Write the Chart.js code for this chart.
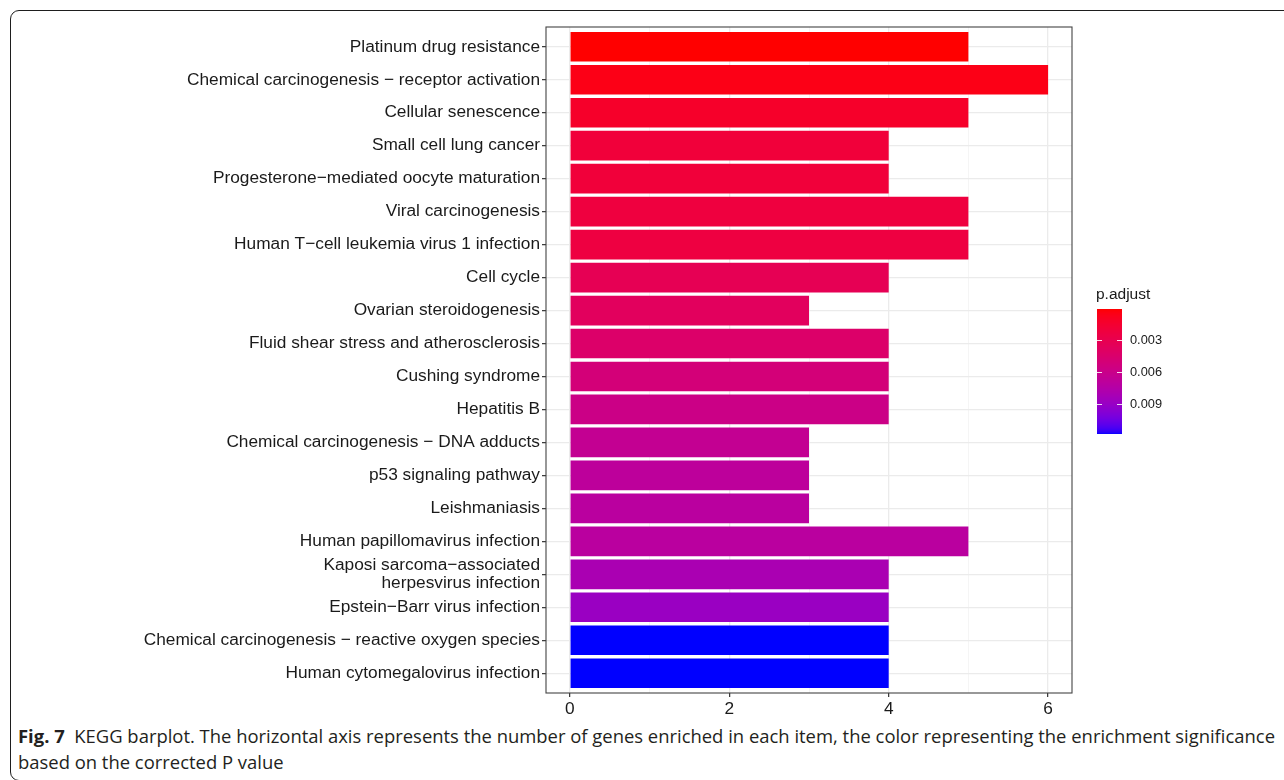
<!DOCTYPE html>
<html>
<head>
<meta charset="utf-8">
<title>KEGG barplot</title>
<script src="https://cdn.jsdelivr.net/npm/chart.js@4.4.1/dist/chart.umd.min.js"></script>
<style>
  html, body { margin: 0; padding: 0; background: #ffffff; }
  body { width: 1284px; height: 780px; position: relative; overflow: hidden; }
  #frame {
    position: absolute; left: 10px; top: 10px; width: 1400px; height: 771px;
    border: 1.5px solid #1e1e1e; border-radius: 9px; box-sizing: border-box;
  }
  #plotBox { position: absolute; left: 0; top: 0; width: 1284px; height: 720px; }
  .cap {
    position: absolute; left: 18px; white-space: nowrap;
    font-family: "Open Sans", "Noto Sans", sans-serif; font-size: 17.5px; line-height: 26px;
    color: #231f20; transform-origin: 0 0;
  }
  .cap b { font-weight: 700; }
</style>
</head>
<body>
<div id="frame"></div>
<div id="plotBox"><canvas id="chart" width="1284" height="720"></canvas></div>
<div class="cap" id="cap1"><b>Fig. 7</b>&nbsp; KEGG barplot. The horizontal axis represents the number of genes enriched in each item, the color representing the enrichment significance</div>
<div class="cap" id="cap2">based on the corrected P value</div>

<script>
// KEGG pathways, top to bottom
const categories = [
  "Platinum drug resistance",
  "Chemical carcinogenesis \u2212 receptor activation",
  "Cellular senescence",
  "Small cell lung cancer",
  "Progesterone\u2212mediated oocyte maturation",
  "Viral carcinogenesis",
  "Human T\u2212cell leukemia virus 1 infection",
  "Cell cycle",
  "Ovarian steroidogenesis",
  "Fluid shear stress and atherosclerosis",
  "Cushing syndrome",
  "Hepatitis B",
  "Chemical carcinogenesis \u2212 DNA adducts",
  "p53 signaling pathway",
  "Leishmaniasis",
  "Human papillomavirus infection",
  "Kaposi sarcoma\u2212associated\nherpesvirus infection",
  "Epstein\u2212Barr virus infection",
  "Chemical carcinogenesis \u2212 reactive oxygen species",
  "Human cytomegalovirus infection"
];

// number of enriched genes per pathway
const geneCount = [5, 6, 5, 4, 4, 5, 5, 4, 3, 4, 4, 4, 3, 3, 3, 5, 4, 4, 4, 4];

// adjusted p-values per pathway
const pAdjust = [
  0.00005, 0.00052, 0.00123, 0.00193, 0.00193, 0.00217, 0.00228, 0.00322, 0.00369, 0.00428,
  0.00510, 0.00581, 0.00640, 0.00687, 0.00710, 0.00710, 0.00804, 0.00886, 0.01180, 0.01180
];

// axis ticks
const countTicks = [0, 1, 2, 3, 4, 5, 6];
const legendBreaks = [0.003, 0.006, 0.009];
const legendBreakLabels = ["0.003", "0.006", "0.009"];

// ---- colour scale: red (low p) -> blue (high p), interpolated in CIE Lab ----
const WHITE = [0.95047, 1.0, 1.08883];
function toLin(c) { c /= 255; return c <= 0.04045 ? c / 12.92 : Math.pow((c + 0.055) / 1.055, 2.4); }
function fromLin(c) { c = c <= 0.0031308 ? 12.92 * c : 1.055 * Math.pow(c, 1 / 2.4) - 0.055; return Math.round(Math.min(1, Math.max(0, c)) * 255); }
function rgbToLab(rgb) {
  const r = toLin(rgb[0]), g = toLin(rgb[1]), b = toLin(rgb[2]);
  const X = (0.4124 * r + 0.3576 * g + 0.1805 * b) / WHITE[0];
  const Y = (0.2126 * r + 0.7152 * g + 0.0722 * b) / WHITE[1];
  const Z = (0.0193 * r + 0.1192 * g + 0.9505 * b) / WHITE[2];
  const f = t => t > 0.008856 ? Math.cbrt(t) : 7.787 * t + 16 / 116;
  const fx = f(X), fy = f(Y), fz = f(Z);
  return [116 * fy - 16, 500 * (fx - fy), 200 * (fy - fz)];
}
function labToRgb(lab) {
  const fy = (lab[0] + 16) / 116, fx = fy + lab[1] / 500, fz = fy - lab[2] / 200;
  const inv = t => t * t * t > 0.008856 ? t * t * t : (t - 16 / 116) / 7.787;
  const X = inv(fx) * WHITE[0], Y = inv(fy) * WHITE[1], Z = inv(fz) * WHITE[2];
  const r = 3.2406 * X - 1.5372 * Y - 0.4986 * Z;
  const g = -0.9689 * X + 1.8758 * Y + 0.0415 * Z;
  const b = 0.0557 * X - 0.2040 * Y + 1.0570 * Z;
  return [fromLin(r), fromLin(g), fromLin(b)];
}
const LAB_LOW = rgbToLab([255, 0, 0]);
const LAB_HIGH = rgbToLab([0, 0, 255]);
const pMin = Math.min(...pAdjust);
const pMax = Math.max(...pAdjust);
function colourFor(p) {
  const t = Math.min(1, Math.max(0, (p - pMin) / (pMax - pMin)));
  const lab = LAB_LOW.map((v, i) => v + (LAB_HIGH[i] - v) * t);
  const c = labToRgb(lab);
  return `rgb(${c[0]},${c[1]},${c[2]})`;
}

const TEXT = '#1a1a1a';
const FONT = '"Liberation Sans", Arial, Helvetica, sans-serif';

// panel border drawn over the plot
const panelBorder = {
  id: 'panelBorder',
  afterDraw(chart) {
    const { ctx, chartArea: a } = chart;
    ctx.save();
    ctx.strokeStyle = '#444444';
    ctx.lineWidth = 1.1;
    ctx.strokeRect(a.left, a.top, a.right - a.left, a.bottom - a.top);
    ctx.restore();
  }
};

// colour bar legend for p.adjust
const colourBar = {
  id: 'colourBar',
  afterDraw(chart) {
    const ctx = chart.ctx;
    const x = 1097, y = 309, w = 25, h = 125;
    ctx.save();
    for (let i = 0; i < h; i++) {
      const p = pMin + (i + 0.5) / h * (pMax - pMin);
      ctx.fillStyle = colourFor(p);
      ctx.fillRect(x, y + i, w, 1);
    }
    ctx.strokeStyle = 'rgba(255,255,255,0.85)';
    ctx.lineWidth = 1;
    ctx.fillStyle = TEXT;
    ctx.font = `12.8px ${FONT}`;
    ctx.textBaseline = 'middle';
    ctx.textAlign = 'left';
    legendBreaks.forEach((b, i) => {
      const yy = Math.round(y + (b - pMin) / (pMax - pMin) * h) + 0.5;
      ctx.beginPath();
      ctx.moveTo(x, yy); ctx.lineTo(x + 5, yy);
      ctx.moveTo(x + w - 5, yy); ctx.lineTo(x + w, yy);
      ctx.stroke();
      ctx.fillText(legendBreakLabels[i], 1130, yy);
    });
    ctx.font = `15.5px ${FONT}`;
    ctx.fillStyle = TEXT;
    ctx.fillText('p.adjust', 1096, 295);
    ctx.restore();
  }
};

new Chart(document.getElementById('chart'), {
  type: 'bar',
  data: {
    datasets: [{
      data: categories.map((c, i) => ({ x: geneCount[i], y: i })),
      backgroundColor: pAdjust.map(colourFor),
      borderWidth: 0,
      barPercentage: 0.9,
      categoryPercentage: 1.0
    }]
  },
  options: {
    indexAxis: 'y',
    responsive: false,
    devicePixelRatio: 1,
    animation: false,
    layout: { padding: { left: 0, right: 212, top: 27, bottom: 0 } },
    plugins: { legend: { display: false }, tooltip: { enabled: false } },
    scales: {
      x: {
        type: 'linear',
        position: 'bottom',
        min: -0.3,
        max: 6.3,
        bounds: 'data',
        offset: false,
        afterBuildTicks(s) { s.ticks = countTicks.map(v => ({ value: v })); },
        afterFit(s) { s.height = 27; },
        border: { display: false },
        grid: {
          offset: false,
          color: c => (c.tick && c.tick.value % 2 === 0) ? '#EBEBEB' : '#F3F3F3',
          lineWidth: c => (c.tick && c.tick.value % 2 === 0) ? 1.3 : 0.8,
          tickColor: c => (c.tick && c.tick.value % 2 === 0) ? '#333333' : 'rgba(0,0,0,0)',
          tickLength: 4,
          tickWidth: 1.2
        },
        ticks: {
          autoSkip: false,
          maxRotation: 0,
          padding: 2,
          color: TEXT,
          font: { family: FONT, size: 17.3 },
          callback: v => (v % 2 === 0 ? String(v) : '')
        }
      },
      y: {
        type: 'linear',
        reverse: true,
        min: -0.6,
        max: 19.6,
        bounds: 'data',
        offset: false,
        afterBuildTicks(s) { s.ticks = categories.map((c, i) => ({ value: i })); },
        afterFit(s) { s.width = 546; },
        border: { display: false },
        grid: {
          offset: false,
          color: '#EBEBEB',
          lineWidth: 1.3,
          tickColor: '#333333',
          tickLength: 4,
          tickWidth: 1.2
        },
        ticks: {
          autoSkip: false,
          padding: 2,
          color: TEXT,
          font: { family: FONT, size: 17.3, lineHeight: 1.08 },
          callback: v => categories[v].split('\n')
        }
      }
    }
  },
  plugins: [panelBorder, colourBar]
});

// caption, fitted to the figure width
(function placeCaption() {
  const c1 = document.getElementById('cap1');
  const c2 = document.getElementById('cap2');
  const s = 1257 / c1.getBoundingClientRect().width;
  c1.style.top = '723px';
  c2.style.top = '749px';
  c1.style.transform = `scaleX(${s})`;
  c2.style.transform = `scaleX(${s})`;
})();
</script>
</body>
</html>
